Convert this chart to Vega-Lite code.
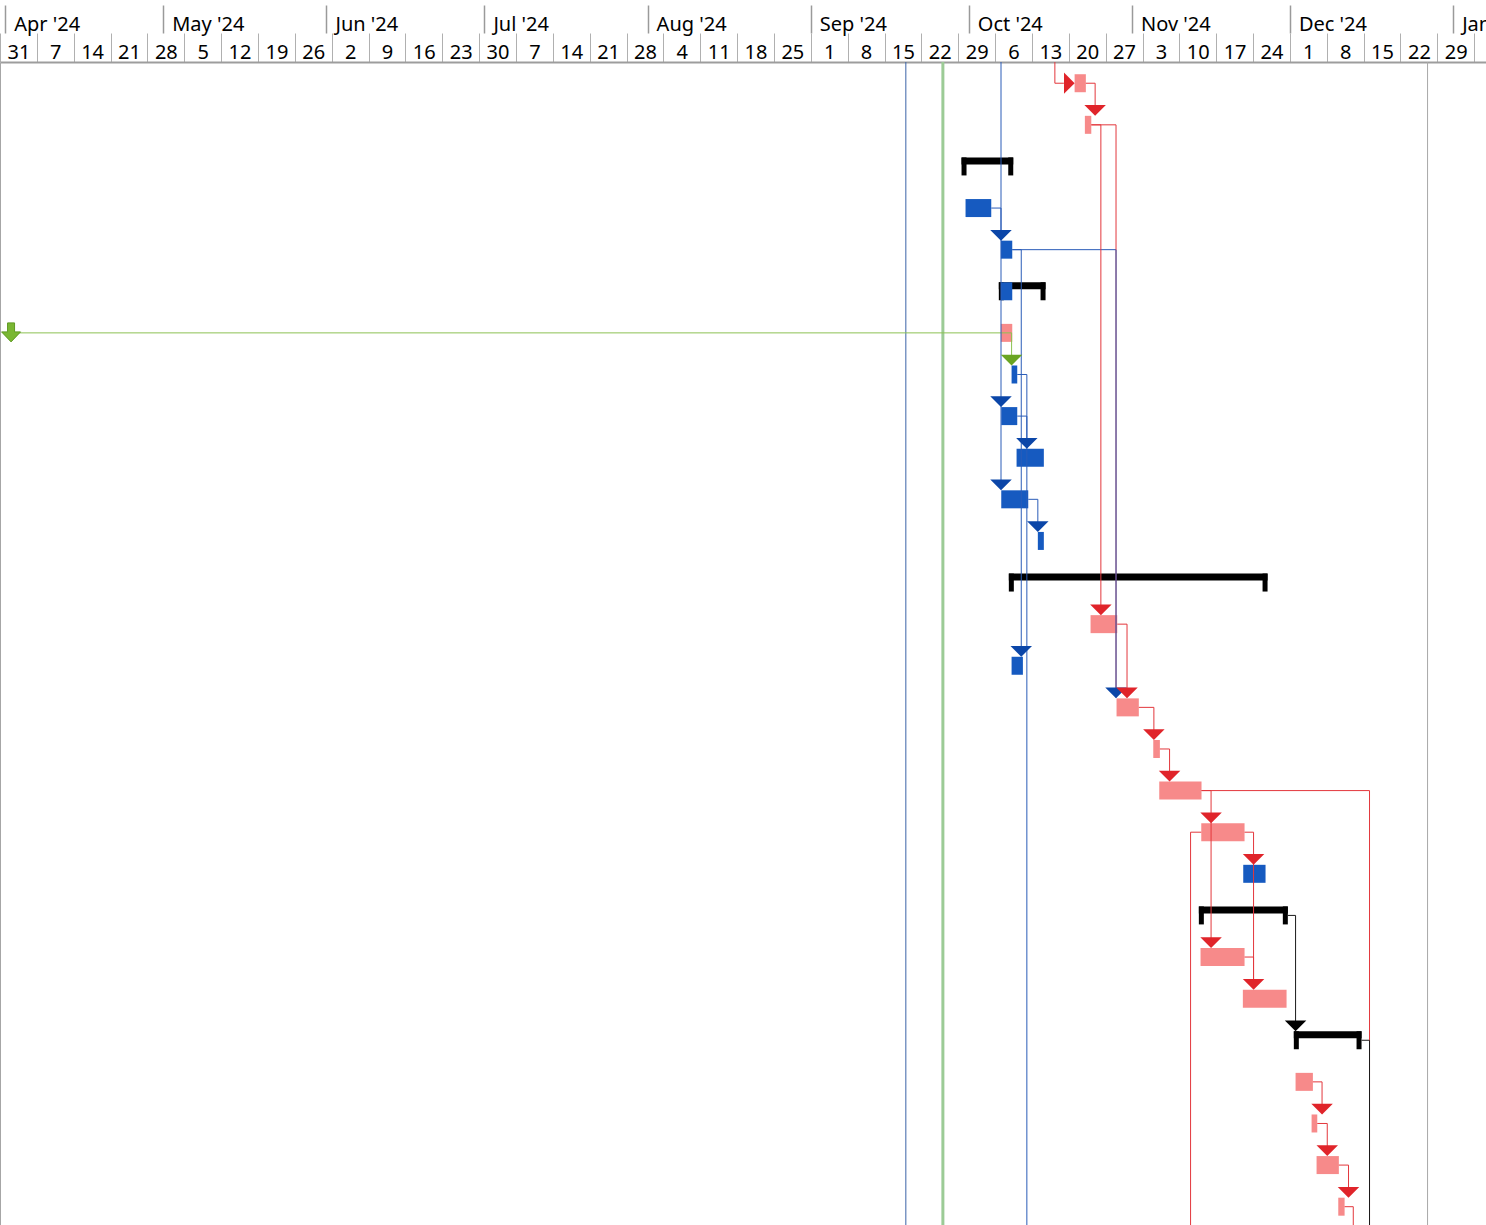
{
  "$schema": "https://vega.github.io/schema/vega-lite/v6.json",
  "width": 1486,
  "height": 1163,
  "autosize": {"type": "none"},
  "padding": {"left": 0, "top": 62, "right": 0, "bottom": 0},
  "background": "white",
  "config": {"view": {"stroke": null}, "axis": {"grid": false}, "scale": {"continuousPadding": 0}},
  "datasets": {
    "tasks": [
      {"row": 1, "start": "2024-10-21T02:30", "finish": "2024-10-23T05:45", "type": "critical"},
      {"row": 2, "start": "2024-10-23T01:15", "finish": "2024-10-24T06:30", "type": "critical"},
      {"row": 4, "start": "2024-09-30T09:20", "finish": "2024-10-05T06:30", "type": "noncritical"},
      {"row": 5, "start": "2024-10-07T02:10", "finish": "2024-10-09T06:15", "type": "noncritical"},
      {"row": 6, "start": "2024-10-07T02:10", "finish": "2024-10-09T06:15", "type": "noncritical"},
      {"row": 7, "start": "2024-10-07T02:10", "finish": "2024-10-09T06:15", "type": "critical"},
      {"row": 8, "start": "2024-10-09T03:10", "finish": "2024-10-10T05:00", "type": "noncritical"},
      {"row": 9, "start": "2024-10-07T04:05", "finish": "2024-10-10T05:00", "type": "noncritical"},
      {"row": 10, "start": "2024-10-10T01:55", "finish": "2024-10-15T06:15", "type": "noncritical"},
      {"row": 11, "start": "2024-10-07T04:05", "finish": "2024-10-12T07:10", "type": "noncritical"},
      {"row": 12, "start": "2024-10-14T02:50", "finish": "2024-10-15T06:15", "type": "noncritical"},
      {"row": 14, "start": "2024-10-24T03:10", "finish": "2024-10-29T04:50", "type": "critical"},
      {"row": 15, "start": "2024-10-09T03:10", "finish": "2024-10-11T06:45", "type": "noncritical"},
      {"row": 16, "start": "2024-10-29T01:40", "finish": "2024-11-02T07:10", "type": "critical"},
      {"row": 17, "start": "2024-11-05T01:00", "finish": "2024-11-06T07:10", "type": "critical"},
      {"row": 18, "start": "2024-11-06T04:20", "finish": "2024-11-14T05:00", "type": "critical"},
      {"row": 19, "start": "2024-11-14T03:50", "finish": "2024-11-22T09:10", "type": "critical"},
      {"row": 20, "start": "2024-11-22T03:10", "finish": "2024-11-26T08:50", "type": "noncritical"},
      {"row": 22, "start": "2024-11-14T00:30", "finish": "2024-11-22T09:10", "type": "critical"},
      {"row": 23, "start": "2024-11-22T01:25", "finish": "2024-11-30T08:40", "type": "critical"},
      {"row": 25, "start": "2024-12-02T01:40", "finish": "2024-12-05T08:40", "type": "critical"},
      {"row": 26, "start": "2024-12-05T02:40", "finish": "2024-12-06T04:35", "type": "critical"},
      {"row": 27, "start": "2024-12-06T01:25", "finish": "2024-12-10T07:00", "type": "critical"},
      {"row": 28, "start": "2024-12-10T04:20", "finish": "2024-12-11T09:10", "type": "critical"}
    ],
    "summaries": [
      {"row": 3, "start": "2024-09-29T15:00", "finish": "2024-10-09T10:45"},
      {"row": 6, "start": "2024-10-06T17:00", "finish": "2024-10-15T14:00"},
      {"row": 13, "start": "2024-10-08T14:40", "finish": "2024-11-26T18:00"},
      {"row": 21, "start": "2024-11-13T16:50", "finish": "2024-11-30T14:25"},
      {"row": 24, "start": "2024-12-01T17:45", "finish": "2024-12-14T14:25"}
    ],
    "links": [
      {"src": 1, "dst": 2, "from": "2024-10-23T05:45", "turn": "2024-10-25T00:00", "kind": "critical"},
      {"src": 2, "dst": 14, "from": "2024-10-24T06:30", "turn": "2024-10-26T02:10", "kind": "critical"},
      {"src": 2, "dst": 16, "from": "2024-10-24T06:30", "turn": "2024-10-28T23:15", "kind": "critical"},
      {"src": 4, "dst": 5, "from": "2024-10-05T06:30", "turn": "2024-10-07T03:00", "kind": "noncritical"},
      {"src": 0, "dst": 11, "from": "2024-10-07T03:00", "turn": "2024-10-07T03:00", "kind": "noncritical"},
      {"src": 5, "dst": 15, "from": "2024-10-09T06:15", "turn": "2024-10-10T23:15", "kind": "noncritical"},
      {"src": 5, "dst": 16, "from": "2024-10-09T06:15", "turn": "2024-10-28T23:15", "kind": "noncritical"},
      {"src": 7, "dst": 8, "from": "2024-04-02T02:25", "turn": "2024-10-09T03:10", "kind": "external"},
      {"src": 8, "dst": 30, "from": "2024-10-10T05:00", "turn": "2024-10-12T00:45", "kind": "noncritical"},
      {"src": 9, "dst": 10, "from": "2024-10-10T05:00", "turn": "2024-10-12T00:45", "kind": "noncritical"},
      {"src": 11, "dst": 12, "from": "2024-10-12T07:10", "turn": "2024-10-14T02:50", "kind": "noncritical"},
      {"src": 14, "dst": 16, "from": "2024-10-29T04:50", "turn": "2024-10-31T01:25", "kind": "critical"},
      {"src": 16, "dst": 17, "from": "2024-11-02T07:10", "turn": "2024-11-05T03:50", "kind": "critical"},
      {"src": 17, "dst": 18, "from": "2024-11-06T07:10", "turn": "2024-11-08T03:20", "kind": "critical"},
      {"src": 18, "dst": 22, "from": "2024-11-14T05:00", "turn": "2024-11-16T00:30", "kind": "critical"},
      {"src": 18, "dst": 30, "from": "2024-11-14T05:00", "turn": "2024-12-16T02:50", "kind": "critical"},
      {"src": 19, "dst": 23, "from": "2024-11-22T09:10", "turn": "2024-11-24T02:10", "kind": "critical"},
      {"src": 19, "dst": 30, "from": "2024-11-14T03:50", "turn": "2024-11-12T03:05", "kind": "critical"},
      {"src": 22, "dst": 23, "from": "2024-11-22T09:10", "turn": "2024-11-24T02:10", "kind": "critical"},
      {"src": 21, "dst": 24, "from": "2024-11-30T14:25", "turn": "2024-12-02T01:40", "kind": "summary"},
      {"src": 24, "dst": 30, "from": "2024-12-14T14:25", "turn": "2024-12-16T02:50", "kind": "summary"},
      {"src": 25, "dst": 26, "from": "2024-12-05T08:40", "turn": "2024-12-07T02:25", "kind": "critical"},
      {"src": 26, "dst": 27, "from": "2024-12-06T04:35", "turn": "2024-12-08T02:10", "kind": "critical"},
      {"src": 27, "dst": 28, "from": "2024-12-10T07:00", "turn": "2024-12-12T03:05", "kind": "critical"},
      {"src": 28, "dst": 30, "from": "2024-12-11T09:10", "turn": "2024-12-13T00:45", "kind": "critical"}
    ],
    "entries": [
      {"src": 0, "dst": 1, "turn": "2024-10-17T08:30", "end": "2024-10-19T01:30", "kind": "critical"}
    ],
    "arrows": [
      {"row": 2, "at": "2024-10-25T00:00", "kind": "critical", "dir": "down"},
      {"row": 5, "at": "2024-10-07T03:00", "kind": "noncritical", "dir": "down"},
      {"row": 8, "at": "2024-10-09T03:10", "kind": "external", "dir": "down"},
      {"row": 9, "at": "2024-10-07T03:00", "kind": "noncritical", "dir": "down"},
      {"row": 10, "at": "2024-10-12T00:45", "kind": "noncritical", "dir": "down"},
      {"row": 11, "at": "2024-10-07T03:00", "kind": "noncritical", "dir": "down"},
      {"row": 12, "at": "2024-10-14T02:50", "kind": "noncritical", "dir": "down"},
      {"row": 14, "at": "2024-10-26T02:10", "kind": "critical", "dir": "down"},
      {"row": 15, "at": "2024-10-10T23:15", "kind": "noncritical", "dir": "down"},
      {"row": 16, "at": "2024-10-28T23:15", "kind": "noncritical", "dir": "down"},
      {"row": 16, "at": "2024-10-31T01:25", "kind": "critical", "dir": "down"},
      {"row": 17, "at": "2024-11-05T03:50", "kind": "critical", "dir": "down"},
      {"row": 18, "at": "2024-11-08T03:20", "kind": "critical", "dir": "down"},
      {"row": 19, "at": "2024-11-16T00:30", "kind": "critical", "dir": "down"},
      {"row": 20, "at": "2024-11-24T02:10", "kind": "critical", "dir": "down"},
      {"row": 22, "at": "2024-11-16T00:30", "kind": "critical", "dir": "down"},
      {"row": 23, "at": "2024-11-24T02:10", "kind": "critical", "dir": "down"},
      {"row": 24, "at": "2024-12-02T01:40", "kind": "summary", "dir": "down"},
      {"row": 26, "at": "2024-12-07T02:25", "kind": "critical", "dir": "down"},
      {"row": 27, "at": "2024-12-08T02:10", "kind": "critical", "dir": "down"},
      {"row": 28, "at": "2024-12-12T03:05", "kind": "critical", "dir": "down"},
      {"row": 1, "at": "2024-10-21T02:30", "kind": "critical", "dir": "right"}
    ],
    "markers": [
      {"row": 7, "at": "2024-04-02T02:25"}
    ],
    "gridlines": [
      {"date": "2024-09-19T01:10", "kind": "current"},
      {"date": "2024-09-26T02:00", "kind": "status"},
      {"date": "2024-12-27T03:20", "kind": "finish"}
    ]
  },
  "resolve": {"scale": {"x": "independent", "stroke": "independent", "size": "independent"}},
  "layer": [
    {
      "data": {"name": "gridlines"},
      "mark": {"type": "rule"},
      "encoding": {
        "x": {
          "field": "date", "type": "temporal", "title": null,
          "scale": {"domain": [{"year": 2024, "month": 3, "date": 31, "hours": 0}, {"year": 2025, "month": 1, "date": 7, "hours": 5, "minutes": 45}], "nice": false, "padding": 0},
          "axis": {
            "orient": "top", "offset": 29, "domain": false, "grid": false,
            "tickCount": {"interval": "month", "step": 1}, "format": "%b '%y",
            "tickSize": 28, "tickColor": "#9a9a9a", "tickWidth": 1.5,
            "labelFont": "Noto Sans", "labelFontSize": 20, "labelColor": "#000000",
            "labelAlign": "left", "labelBaseline": "alphabetic", "labelOffset": 8.5, "labelPadding": -25,
            "labelFlush": false, "labelOverlap": false, "labelBound": false
          }
        },
        "stroke": {"field": "kind", "type": "nominal", "scale": {"domain": ["current", "status", "finish"], "range": ["#3b63a8", "#9ccb96", "#a8a8a8"]}, "legend": null},
        "size": {"field": "kind", "type": "nominal", "scale": {"type": "ordinal", "domain": ["current", "status", "finish"], "range": [1, 3, 1]}, "legend": null}
      }
    },
    {
      "layer": [
        {
          "data": {"name": "summaries"},
          "mark": {"type": "rule", "strokeWidth": 7, "strokeCap": "butt", "yOffset": -5.5, "color": "#000000"},
          "encoding": {
            "x": {
              "field": "start", "type": "temporal", "title": null,
              "scale": {"domain": [{"year": 2024, "month": 3, "date": 31, "hours": 0}, {"year": 2025, "month": 1, "date": 7, "hours": 5, "minutes": 45}], "nice": false, "padding": 0},
              "axis": {
                "orient": "top", "offset": 0, "grid": false,
                "domain": true, "domainColor": "#9d9d9d", "domainWidth": 2,
                "tickCount": {"interval": "week", "step": 1}, "format": "%-d",
                "tickSize": 29, "tickColor": "#b0b0b0", "tickWidth": 1,
                "labelFont": "Noto Sans", "labelFontSize": 20, "labelColor": "#000000",
                "labelAlign": "center", "labelBaseline": "alphabetic", "labelOffset": 18.4, "labelPadding": -25.3,
                "labelFlush": false, "labelOverlap": false, "labelBound": false
              }
            },
            "x2": {"field": "finish"},
            "y": {
              "field": "row", "type": "quantitative", "title": null,
              "scale": {"domain": [0.49, 28.44], "reverse": true, "nice": false, "zero": false, "padding": 0},
              "axis": {"domain": true, "domainColor": "#a6a6a6", "domainWidth": 1, "ticks": false, "labels": false, "grid": false, "title": null}
            }
          }
        },
        {
          "data": {"name": "summaries"},
          "mark": {"type": "rule", "strokeWidth": 5, "strokeCap": "butt", "yOffset": -9, "y2Offset": 9, "xOffset": 2.5, "color": "#000000"},
          "encoding": {
            "x": {"field": "start", "type": "temporal", "title": null},
            "y": {"field": "row", "type": "quantitative", "title": null},
            "y2": {"field": "row"}
          }
        },
        {
          "data": {"name": "summaries"},
          "mark": {"type": "rule", "strokeWidth": 5, "strokeCap": "butt", "yOffset": -9, "y2Offset": 9, "xOffset": -2.5, "color": "#000000"},
          "encoding": {
            "x": {"field": "finish", "type": "temporal", "title": null},
            "y": {"field": "row", "type": "quantitative", "title": null},
            "y2": {"field": "row"}
          }
        },
        {
          "data": {"name": "tasks"},
          "mark": {"type": "bar", "orient": "horizontal", "height": 18},
          "encoding": {
            "x": {"field": "start", "type": "temporal", "title": null},
            "x2": {"field": "finish"},
            "y": {"field": "row", "type": "quantitative", "title": null},
            "fill": {"field": "type", "type": "nominal", "scale": {"domain": ["critical", "noncritical"], "range": ["#f78a8a", "#165ac0"]}, "legend": null}
          }
        },
        {
          "data": {"name": "links"},
          "mark": {"type": "rule", "strokeWidth": 1, "clip": true},
          "encoding": {
            "x": {"field": "from", "type": "temporal", "title": null},
            "x2": {"field": "turn"},
            "y": {"field": "src", "type": "quantitative", "title": null},
            "stroke": {"field": "kind", "type": "nominal", "scale": {"domain": ["critical", "noncritical", "external", "summary"], "range": ["#e3373c", "#2a5cb8", "#8cc152", "#1a1a1a"]}, "legend": null}
          }
        },
        {
          "data": {"name": "links"},
          "mark": {"type": "rule", "strokeWidth": 1, "clip": true, "y2Offset": -10},
          "encoding": {
            "x": {"field": "turn", "type": "temporal", "title": null},
            "y": {"field": "src", "type": "quantitative", "title": null},
            "y2": {"field": "dst"},
            "stroke": {"field": "kind", "type": "nominal", "scale": {"domain": ["critical", "noncritical", "external", "summary"], "range": ["#e3373c", "#2a5cb8", "#8cc152", "#1a1a1a"]}, "legend": null}
          }
        },
        {
          "data": {"name": "entries"},
          "mark": {"type": "rule", "strokeWidth": 1, "clip": true},
          "encoding": {
            "x": {"field": "turn", "type": "temporal", "title": null},
            "y": {"field": "src", "type": "quantitative", "title": null},
            "y2": {"field": "dst"},
            "stroke": {"field": "kind", "type": "nominal", "scale": {"domain": ["critical", "noncritical", "external", "summary"], "range": ["#e3373c", "#2a5cb8", "#8cc152", "#1a1a1a"]}, "legend": null}
          }
        },
        {
          "data": {"name": "entries"},
          "mark": {"type": "rule", "strokeWidth": 1, "clip": true},
          "encoding": {
            "x": {"field": "turn", "type": "temporal", "title": null},
            "x2": {"field": "end"},
            "y": {"field": "dst", "type": "quantitative", "title": null},
            "stroke": {"field": "kind", "type": "nominal", "scale": {"domain": ["critical", "noncritical", "external", "summary"], "range": ["#e3373c", "#2a5cb8", "#8cc152", "#1a1a1a"]}, "legend": null}
          }
        },
        {
          "data": {"name": "arrows"},
          "transform": [{"filter": "datum.dir === 'down'"}],
          "mark": {"type": "point", "shape": "M-1,-1L1,-1L0,0Z", "size": 462, "filled": true, "opacity": 1, "strokeWidth": 0, "yOffset": -9},
          "encoding": {
            "x": {"field": "at", "type": "temporal", "title": null},
            "y": {"field": "row", "type": "quantitative", "title": null},
            "color": {"field": "kind", "type": "nominal", "scale": {"domain": ["critical", "noncritical", "external", "summary"], "range": ["#e0242a", "#0b46a8", "#6aa522", "#000000"]}, "legend": null}
          }
        },
        {
          "data": {"name": "arrows"},
          "transform": [{"filter": "datum.dir === 'right'"}],
          "mark": {"type": "point", "shape": "M-1,-1L0,0L-1,1Z", "size": 453, "filled": true, "opacity": 1, "strokeWidth": 0},
          "encoding": {
            "x": {"field": "at", "type": "temporal", "title": null},
            "y": {"field": "row", "type": "quantitative", "title": null},
            "color": {"field": "kind", "type": "nominal", "scale": {"domain": ["critical", "noncritical", "external", "summary"], "range": ["#e0242a", "#0b46a8", "#6aa522", "#000000"]}, "legend": null}
          }
        },
        {
          "data": {"name": "markers"},
          "mark": {"type": "point", "shape": "M-0.35,-1L0.35,-1L0.35,-0.1L0.95,-0.1L0,0.9L-0.95,-0.1L-0.35,-0.1Z", "size": 400, "filled": true, "opacity": 1, "fill": "#7ab733", "stroke": "#5f9a22", "strokeWidth": 1},
          "encoding": {
            "x": {"field": "at", "type": "temporal", "title": null},
            "y": {"field": "row", "type": "quantitative", "title": null}
          }
        }
      ]
    }
  ]
}
